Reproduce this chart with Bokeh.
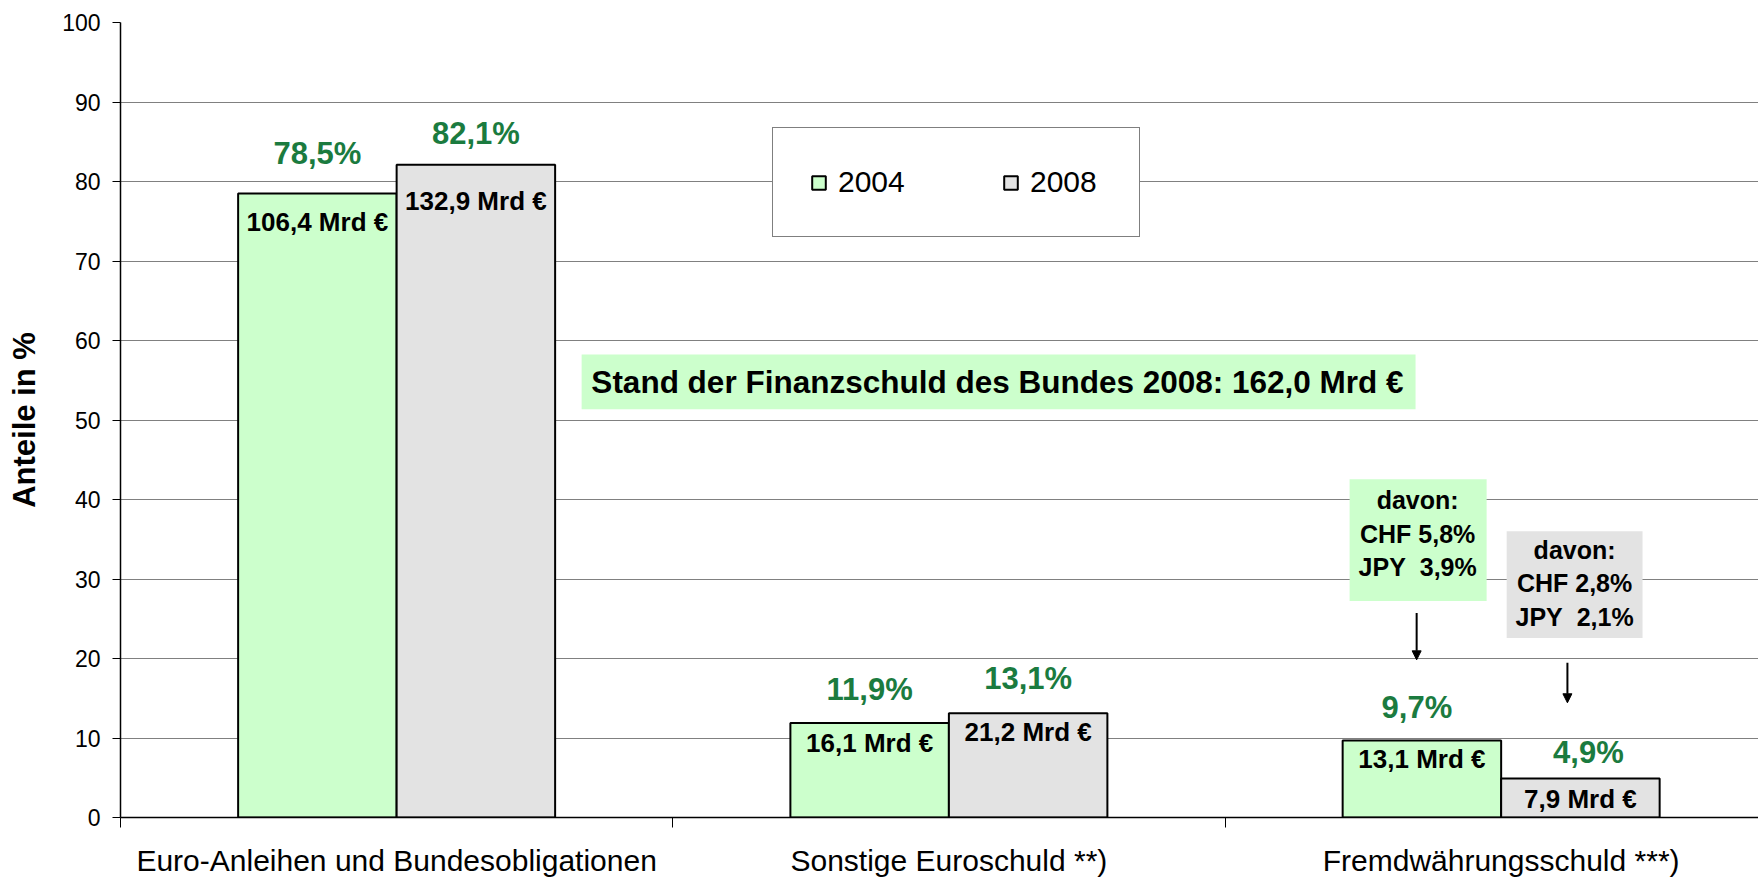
from bokeh.plotting import figure
from bokeh.models import (ColumnDataSource, FixedTicker, Legend, LegendItem, Label,
                          BoxAnnotation, Arrow, NormalHead, Range1d)
from bokeh.core.properties import value
from bokeh.embed import file_html
from bokeh.resources import INLINE

# ---------------- data ----------------
categories = ["Euro-Anleihen und Bundesobligationen", "Sonstige Euroschuld **)", "Fremdwährungsschuld ***)"]
years = ["2004", "2008"]
share_2004 = [78.5, 11.9, 9.7]
share_2008 = [82.1, 13.1, 4.9]
mrd_2004 = [106.4, 16.1, 13.1]
mrd_2008 = [132.9, 21.2, 7.9]
total_2008 = 162.0
fx_2004 = [("CHF", 5.8), ("JPY", 3.9)]
fx_2008 = [("CHF", 2.8), ("JPY", 2.1)]
y_ticks = list(range(0, 101, 10))

# ---------------- style ----------------
FONT = "Liberation Sans"
GREEN_FILL = "#CCFFCC"
GRAY_FILL = "#E3E3E3"
LABEL_GREEN = "#1B7B3F"
BAR_W = 0.287
OFFS = [0.5 - BAR_W / 2, 0.5 + BAR_W / 2]      # bar centre offsets inside a category slot
pct_dy = [[-40, -33, -33], [-31, -35, -26]]   # pixel offsets of % labels
pct_dx = [[0, 0, -5], [0, 0, 8]]
mrd_dy = [[29, 20, 19], [36, 19, 20]]          # pixel offsets of Mrd labels


def de(v, d=1):
    return f"{v:.{d}f}".replace(".", ",")


p = figure(width=1758, height=879, output_backend="svg", toolbar_location=None,
           x_range=Range1d(0, 2.966), y_range=Range1d(0, 100),
           min_border_left=120, min_border_right=0, min_border_top=22, min_border_bottom=60)
p.outline_line_color = None
p.background_fill_color = "white"
p.border_fill_color = "white"

shares = [share_2004, share_2008]
mrds = [mrd_2004, mrd_2008]
fills = [GREEN_FILL, GRAY_FILL]
renderers = []
for k, yr in enumerate(years):
    src = ColumnDataSource(dict(
        x=[i + OFFS[k] for i in range(len(categories))],
        top=shares[k],
        pct=[de(v) + "%" for v in shares[k]],
        mrd=[de(v) + " Mrd €" for v in mrds[k]],
        pdy=pct_dy[k],
        pdx=pct_dx[k],
        mdy=mrd_dy[k],
    ))
    r = p.vbar(x="x", top="top", bottom=0, width=BAR_W, source=src,
               fill_color=fills[k], line_color="black", line_width=2)
    renderers.append(r)
    p.text(x="x", y="top", text="pct", x_offset="pdx", y_offset="pdy", source=src,
           text_align="center", text_baseline="middle",
           text_font=value(FONT), text_font_style="bold", text_font_size="31px",
           text_color=LABEL_GREEN)
    p.text(x="x", y="top", text="mrd", y_offset="mdy", source=src,
           text_align="center", text_baseline="middle",
           text_font=value(FONT), text_font_style="bold", text_font_size="26px",
           text_color="black")

# ---------------- axes ----------------
p.xaxis.ticker = FixedTicker(ticks=[i + 0.5 for i in range(len(categories))],
                             minor_ticks=list(range(len(categories) + 1)))
p.xaxis.major_label_overrides = {i + 0.5: c for i, c in enumerate(categories)}
p.xaxis.major_tick_out = 0
p.xaxis.major_tick_in = 0
p.xaxis.minor_tick_out = 10
p.xaxis.minor_tick_in = 0
p.xaxis.minor_tick_line_color = "black"
p.xaxis.axis_line_color = "black"
p.xaxis.axis_line_width = 1.5
p.xaxis.major_label_standoff = 16
p.xaxis.major_label_text_font = FONT
p.xaxis.major_label_text_font_size = "30px"
p.xaxis.major_label_text_color = "black"

p.yaxis.ticker = FixedTicker(ticks=y_ticks)
p.yaxis.minor_tick_line_color = None
p.yaxis.major_tick_out = 8
p.yaxis.major_tick_in = 0
p.yaxis.major_tick_line_color = "black"
p.yaxis.axis_line_color = "black"
p.yaxis.axis_line_width = 1.5
p.yaxis.major_label_standoff = 12
p.yaxis.major_label_text_font = FONT
p.yaxis.major_label_text_font_size = "23px"
p.yaxis.major_label_text_color = "black"
p.yaxis.axis_label = "Anteile in %"
p.yaxis.axis_label_text_font = FONT
p.yaxis.axis_label_text_font_style = "bold"
p.yaxis.axis_label_text_font_size = "31px"
p.yaxis.axis_label_text_color = "black"
p.yaxis.axis_label_standoff = 17

p.xgrid.grid_line_color = None
p.ygrid.ticker = FixedTicker(ticks=y_ticks)
p.ygrid.grid_line_color = "#808080"
p.ygrid.grid_line_width = 1

# ---------------- legend ----------------
legend = Legend(items=[LegendItem(label=yr, renderers=[r]) for yr, r in zip(years, renderers)],
                orientation="horizontal", location=(652, 580),
                glyph_width=17, glyph_height=17, label_standoff=11, label_width=72,
                spacing=92, padding=37,
                label_text_font=FONT, label_text_font_size="30px", label_text_color="black",
                border_line_color="black", border_line_width=1,
                background_fill_color="white", background_fill_alpha=1.0)
p.add_layout(legend)

# ---------------- annotations ----------------
p.add_layout(BoxAnnotation(left=0.835, right=2.345, bottom=51.34, top=58.24,
                           fill_color=GREEN_FILL, fill_alpha=1.0, line_color=None))
p.add_layout(Label(x=1.588, y=54.79, text=f"Stand der Finanzschuld des Bundes 2008: {de(total_2008)} Mrd €",
                   text_align="center", text_baseline="middle",
                   text_font=FONT, text_font_style="bold", text_font_size="31.5px", text_color="black"))


def fx_text(fx):
    return "davon:\n" + "\n".join(f"{c} {de(v)}%" if c == "CHF" else f"{c}\u00a0 {de(v)}%" for c, v in fx)


c3 = 2  # third category index
# 2004 breakdown box
p.add_layout(BoxAnnotation(left=c3 + 0.2256, right=c3 + 0.4737, bottom=27.24, top=42.55,
                           fill_color=GREEN_FILL, fill_alpha=1.0, line_color=None))
p.add_layout(Label(x=c3 + 0.3488, y=35.69, text=fx_text(fx_2004),
                   text_align="center", text_baseline="middle", text_line_height=1.2,
                   text_font=FONT, text_font_style="bold", text_font_size="25px", text_color="black"))
# 2008 breakdown box
p.add_layout(BoxAnnotation(left=c3 + 0.510, right=c3 + 0.756, bottom=22.59, top=36.02,
                           fill_color=GRAY_FILL, fill_alpha=1.0, line_color=None))
p.add_layout(Label(x=c3 + 0.633, y=29.48, text=fx_text(fx_2008),
                   text_align="center", text_baseline="middle", text_line_height=1.2,
                   text_font=FONT, text_font_style="bold", text_font_size="25px", text_color="black"))

# arrows
for xs, y0, y1 in [(c3 + 0.347, 25.73, 19.83), (c3 + 0.620, 19.46, 14.43)]:
    p.add_layout(Arrow(x_start=xs, y_start=y0, x_end=xs, y_end=y1, line_color="black", line_width=2,
                       end=NormalHead(size=9, fill_color="black", line_color="black")))

open("out.html", "w").write(file_html(p, INLINE))
